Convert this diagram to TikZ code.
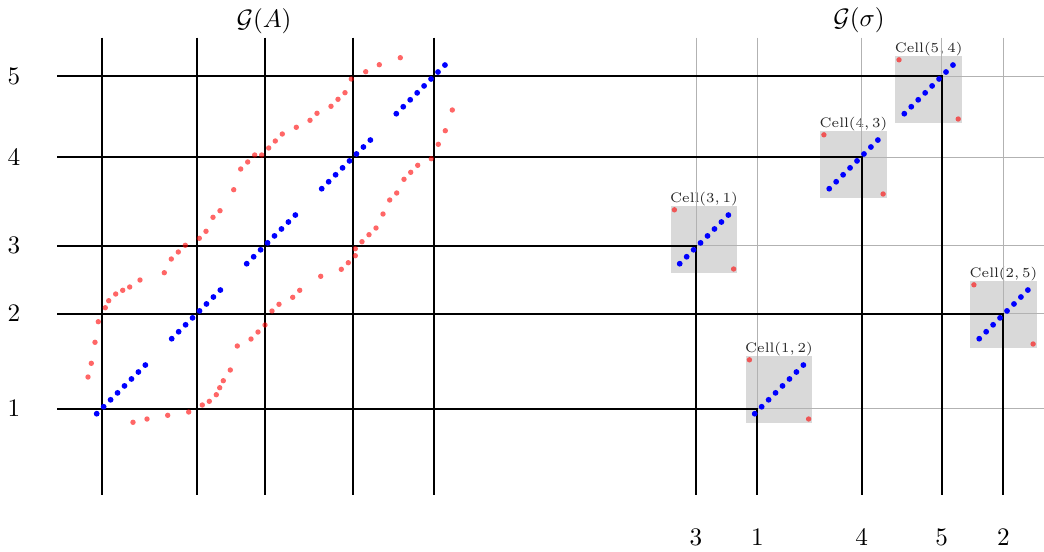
\documentclass[tikz,border=0pt]{standalone}
\usepackage{tikz}

\begin{document}
\begin{tikzpicture}[
    x=0.4348pt, y=-0.4348pt,
    gridline/.style={black, line width=0.8pt},
    faintline/.style={black!30, line width=0.4pt},
    bluedot/.style={fill=blue},
    reddot/.style={fill=red, fill opacity=0.6},
    cellbox/.style={fill=black!15},
    celllabel/.style={font=\fontsize{6}{7}\selectfont, text=black!85, inner sep=0pt, anchor=south},
    ticklabel/.style={font=\fontsize{10.5}{12}\selectfont}
]
\useasboundingbox (0,0) rectangle (1044,551);

% ===== TITLES =====
\node[ticklabel] (titleA) at (264,21) {$\mathcal{G}(A)$};
\node[ticklabel] (titleS) at (859,20) {$\mathcal{G}(\sigma)$};

% ===== TICK LABELS =====
\foreach \r/\y in {1/408.7, 2/313.7, 3/245.7, 4/157, 5/76.3}
    \node[ticklabel] (row\r) at (14,\y) {$\r$};
\foreach \c/\x in {3/696, 1/757.3, 4/861.7, 5/941.7, 2/1003.3}
    \node[ticklabel] (col\c) at (\x,537) {$\c$};

% ===== CELL BOXES (RIGHT) =====
\foreach \i/\cx/\cy/\lab in {1/704/239.4/{3,1}, 2/779/389.4/{1,2}, 3/853.5/164.4/{4,3}, 4/928.6/89.4/{5,4}, 5/1003.5/314.4/{2,5}} {
    \fill[cellbox] (\cx-33.3,\cy-33.3) rectangle (\cx+33.3,\cy+33.3);
    \node[celllabel] (cell\i) at (\cx,\cy-33.3) {$\mathrm{Cell}(\lab)$};
}

% ===== GRID =====
\foreach \x in {101.7, 197, 264.7, 353.3, 434}
    \draw[gridline] (\x,37.7) -- (\x,495);
\foreach \y/\x in {408.7/757.3, 313.7/1003.3, 245.7/696, 157/861.7, 76.3/941.7} {
    \draw[faintline] (\x,\y) -- (1044,\y);
    \draw[faintline] (\x,37.7) -- (\x,\y);
    \draw[gridline] (57,\y) -- (\x,\y) -- (\x,495);
}

% ===== DIAGONAL (BLUE) =====
\foreach \sx/\sy in {96.7/413.7, 171.7/338.7, 246.7/263.7, 321.7/188.7, 396.3/113.7}
    \foreach \k in {0,...,7}
        \fill[bluedot] (\sx+6.95*\k,\sy-6.95*\k) circle (2.9);
\foreach \cx/\cy in {704/239.4, 779/389.4, 853.5/164.4, 928.6/89.4, 1003.5/314.4} {
    \foreach \k in {0,...,7}
        \fill[bluedot] (\cx-24.3+6.95*\k,\cy+24.3-6.95*\k) circle (2.9);
    \fill[reddot] (\cx-29.6,\cy-29.6) circle (2.7);
    \fill[reddot] (\cx+29.6,\cy+29.6) circle (2.7);
}

% ===== UPPER CURVE (RED) =====
\foreach \px/\py in {88/377, 91.3/363.3, 95/342.3, 98.3/321.7, 105.3/307.7, 108.7/300.7,
    115.7/294, 122.7/290.3, 129.7/287, 140/280, 164.3/272.7, 171.3/259, 178.3/252,
    185.3/245.3, 199.3/238.3, 206/231.3, 213/217.3, 220/210.7, 233.7/189.7,
    240.7/169, 247.7/162, 254.7/155, 261.7/155, 268.7/148, 275.3/141, 282.3/134,
    296.3/127.3, 310/120.3, 317/113.3, 331/106.3, 338/99.3, 345/92.7, 351.3/79,
    365.7/71.7, 379.3/64.7, 400.3/57.7}
    \fill[reddot] (\px,\py) circle (2.7);

% ===== LOWER CURVE (RED) =====
\foreach \px/\py in {133/422.3, 147/419, 167.7/415.3, 188.7/412, 202.3/405, 209.3/401.3,
    216.3/394.7, 219.7/387.7, 223.3/380.7, 230.3/370, 237.3/346, 251/339, 258/332,
    265/325, 272/311, 279/304.3, 292.7/297.3, 299.7/290.3, 320.7/276.3, 341.3/269.3,
    348.3/262.7, 355.3/255.7, 355.3/248.7, 362/241.7, 369/234.7, 376/228, 383/214,
    389.7/200, 396.7/193, 404/179.3, 410.7/172.3, 417.7/165.3, 431.3/158.7,
    438.3/144.3, 445.3/130.7, 452.3/110}
    \fill[reddot] (\px,\py) circle (2.7);

\end{tikzpicture}
\end{document}
